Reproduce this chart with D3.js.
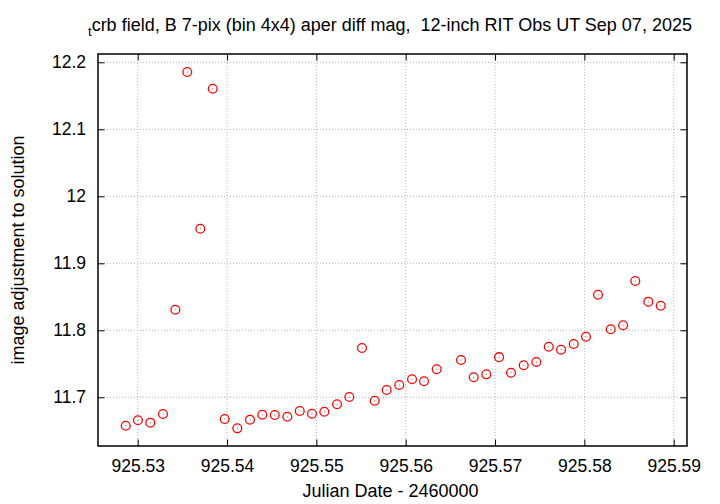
<!DOCTYPE html>
<html><head><meta charset="utf-8">
<script src="https://cdn.jsdelivr.net/npm/d3@7"></script>
<style>body{margin:0;background:#fff}svg{display:block}text{font-family:"Liberation Sans",Arial,sans-serif;fill:#000}</style>
</head><body><svg id="c" width="720" height="504"></svg>
<script>
const jd = [925.52866,925.53003,925.53141,925.53283,925.53421,925.53555,925.53701,925.53840,925.53974,925.54115,
925.54257,925.54395,925.54534,925.54675,925.54814,925.54951,925.55089,925.55231,925.55369,925.55511,
925.55653,925.55787,925.55928,925.56071,925.56205,925.56347,925.56619,925.56761,925.56902,925.57045,
925.57179,925.57321,925.57462,925.57601,925.57739,925.57881,925.58018,925.58153,925.58295,925.58433,
925.58570,925.58716,925.58855];
const mag = [11.6576,11.6657,11.6621,11.6751,11.8307,12.1855,11.9516,12.1606,11.6676,11.6537,
11.6666,11.6740,11.6736,11.6710,11.6796,11.6755,11.6785,11.6896,11.7004,11.7736,
11.6949,11.7109,11.7184,11.7269,11.7239,11.7418,11.7557,11.7299,11.7343,11.7599,
11.7367,11.7478,11.7527,11.7755,11.7710,11.7796,11.7904,11.8531,11.8015,11.8075,
11.8736,11.8427,11.8367];
const xTicks = [925.53,925.54,925.55,925.56,925.57,925.58,925.59];
const yTicks = [11.7,11.8,11.9,12.0,12.1,12.2];
const xTickLabels = ["925.53","925.54","925.55","925.56","925.57","925.58","925.59"];
const yTickLabels = ["11.7","11.8","11.9","12","12.1","12.2"];
const titleSub = "t";
const titleMain = "crb field, B 7-pix (bin 4x4) aper diff mag,  12-inch RIT Obs UT Sep 07, 2025";
const xLabel = "Julian Date - 2460000";
const yLabel = "image adjustment to solution";

const L=98,R=687,T=54,B=446;
const svg=d3.select("#c");
const x=d3.scaleLinear().domain([925.525556,925.591489]).range([L,R]);
const y=d3.scaleLinear().domain([11.62731,12.21239]).range([B,T]);

// grid
const g=svg.append("g");
g.selectAll("line.gx").data(xTicks).join("line")
 .attr("x1",d=>x(d)).attr("x2",d=>x(d)).attr("y1",T).attr("y2",B)
 .attr("stroke","#b4b4b4").attr("stroke-width",1).attr("stroke-dasharray","1,2");
g.selectAll("line.gy").data(yTicks).join("line")
 .attr("y1",d=>y(d)).attr("y2",d=>y(d)).attr("x1",L).attr("x2",R)
 .attr("stroke","#b4b4b4").attr("stroke-width",1).attr("stroke-dasharray","1,2");

// axes with inward ticks
const tl=6.5;
const fmtX=(d,i)=>xTickLabels[i], fmtY=(d,i)=>yTickLabels[i];
const ax=svg.append("g").attr("transform",`translate(0,${B})`)
 .call(d3.axisBottom(x).tickValues(xTicks).tickFormat(fmtX).tickSizeInner(-tl).tickSizeOuter(0).tickPadding(14));
const axT=svg.append("g").attr("transform",`translate(0,${T})`)
 .call(d3.axisTop(x).tickValues(xTicks).tickFormat("").tickSizeInner(-tl).tickSizeOuter(0));
const ay=svg.append("g").attr("transform",`translate(${L},0)`)
 .call(d3.axisLeft(y).tickValues(yTicks).tickFormat(fmtY).tickSizeInner(-tl).tickSizeOuter(0).tickPadding(12));
const ayR=svg.append("g").attr("transform",`translate(${R},0)`)
 .call(d3.axisRight(y).tickValues(yTicks).tickFormat("").tickSizeInner(-tl).tickSizeOuter(0));
svg.selectAll(".domain").remove();
svg.selectAll(".tick line").attr("stroke","#000").attr("stroke-width",1);
svg.selectAll(".tick text").attr("font-size",17.5).attr("font-family","Liberation Sans, Arial, sans-serif").attr("fill","#000");
ax.selectAll(".tick text").attr("dy","0.71em");

// frame
svg.append("rect").attr("x",L).attr("y",T).attr("width",R-L).attr("height",B-T)
 .attr("fill","none").attr("stroke","#000").attr("stroke-width",1.5);

// points
const pts=svg.append("g");
const data=jd.map((d,i)=>({x:d,y:mag[i]}));
pts.selectAll("circle.o").data(data).join("circle")
 .attr("cx",d=>x(d.x)).attr("cy",d=>y(d.y)).attr("r",4.4)
 .attr("fill","none").attr("stroke","#ff0000").attr("stroke-width",1.3);
pts.selectAll("circle.c").data(data).join("circle")
 .attr("cx",d=>x(d.x)).attr("cy",d=>y(d.y)).attr("r",0.5)
 .attr("fill","#ff0000");

// title
const tt=svg.append("text").attr("x",88).attr("y",31).attr("font-size",18).style("white-space","pre");
tt.append("tspan").attr("font-size",13).attr("dy",5).text(titleSub);
tt.append("tspan").attr("dy",-5).text(titleMain);

// axis labels
svg.append("text").attr("x",(L+R)/2-2).attr("y",497).attr("text-anchor","middle").attr("font-size",18).text(xLabel);
svg.append("text").attr("transform",`translate(24,${(T+B)/2}) rotate(-90)`).attr("text-anchor","middle").attr("font-size",18).text(yLabel);
</script></body></html>
